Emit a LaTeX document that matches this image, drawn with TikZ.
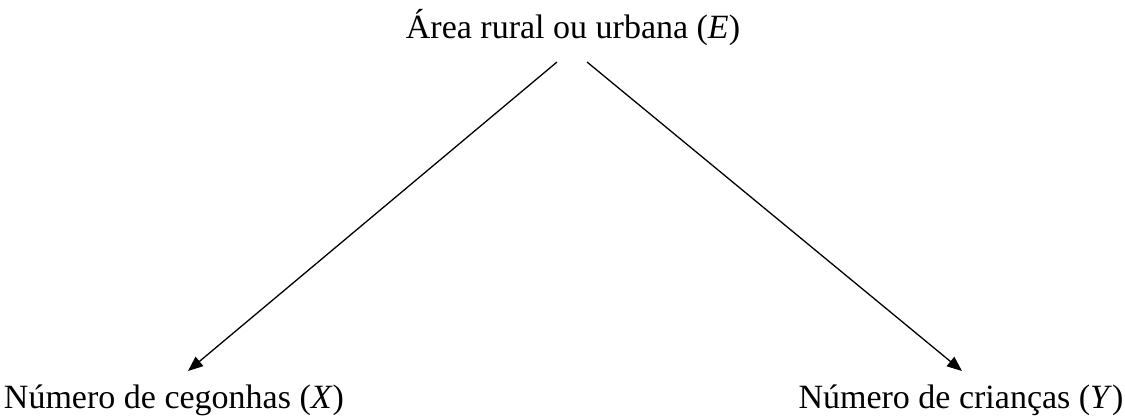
\documentclass[tikz,border=0pt]{standalone}
\usepackage{fontspec}
\setmainfont{Liberation Serif}
\usetikzlibrary{arrows.meta,calc}
\begin{document}
\begin{tikzpicture}[x=1pt,y=-1pt,
  lbl/.style={inner sep=0pt,font=\fontsize{34}{40}\selectfont},
  arr/.style={line width=1.3pt,-{Triangle[length=15pt,width=12pt]}}]
\useasboundingbox (0,0) rectangle (1125,417);
\node[lbl] (e) at (573,28) {Área rural ou urbana (\textit{E})};
\node[lbl] (x) at (174,400) {Número de cegonhas (\textit{X})};
\node[lbl] (y) at (961,400) {Número de crianças (\textit{Y})};
\coordinate (el) at ($(e.center)+(-16,34)$);
\coordinate (er) at ($(e.center)+(14,34)$);
\coordinate (xt) at ($(x.center)+(14,-29)$);
\coordinate (yt) at ($(y.center)+(1,-29)$);
\draw[arr] (el) -- (xt);
\draw[arr] (er) -- (yt);
\end{tikzpicture}
\end{document}
